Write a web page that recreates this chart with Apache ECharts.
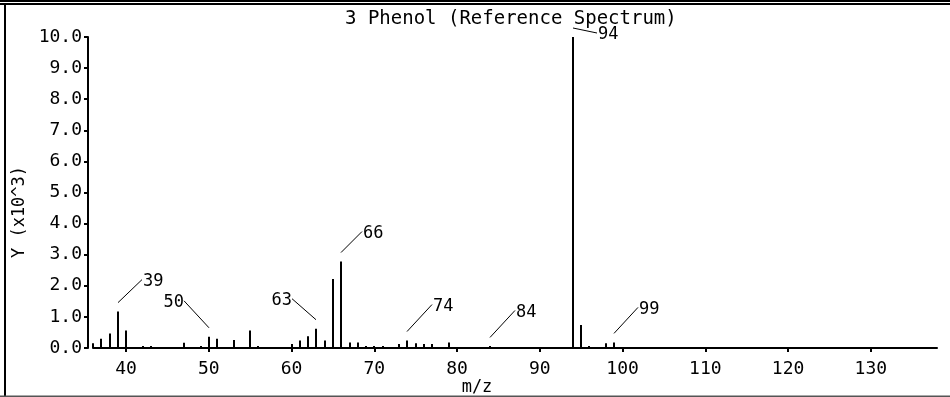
<!DOCTYPE html>
<html>
<head>
<meta charset="utf-8">
<script src="https://cdn.jsdelivr.net/npm/echarts@6/dist/echarts.min.js"></script>
<style>
html,body{margin:0;padding:0;background:#fff;}
#chart{width:950px;height:397px;}
</style>
</head>
<body>
<div id="chart"></div>
<script>
// ---- data ----
var titleText = '3 Phenol (Reference Spectrum)';
var yAxisTitle = 'Y (x10^3)';
var xAxisTitle = 'm/z';
var mzValues = [36,37,38,39,40,42,43,47,49,50,51,53,55,56,60,61,62,63,64,65,66,67,68,69,70,71,73,74,75,76,77,79,84,94,95,96,98,99];
var abundance = [0.15,0.30,0.47,1.17,0.56,0.06,0.06,0.17,0.06,0.36,0.30,0.26,0.56,0.06,0.13,0.24,0.38,0.62,0.24,2.22,2.78,0.18,0.18,0.05,0.05,0.05,0.13,0.24,0.15,0.13,0.13,0.18,0.05,10.0,0.74,0.05,0.15,0.18];
var labelledPeaks = [39,50,63,66,74,84,94,99];
var xTickValues = [40,50,60,70,80,90,100,110,120,130];

// ---- label leader layout (styling, pixels) ----
var leaderOffsets = {
  39:[24,-23], 50:[-25,-27], 63:[-24,-21], 66:[21,-21],
  74:[25,-27], 84:[25,-27], 94:[24,5], 99:[24,-26]
};

var FONT = 'DejaVu Sans Mono';

var barData = mzValues.map(function(m,i){return [m, abundance[i]];});
var labelData = labelledPeaks.map(function(m){
  return [m, abundance[mzValues.indexOf(m)]];
});

var chart = echarts.init(document.getElementById('chart'), null, {renderer:'canvas'});
chart.setOption({
  animation:false,
  backgroundColor:'#fff',
  title:{
    text:titleText, left:340, top:5,
    textStyle:{fontFamily:FONT,fontSize:19,fontWeight:'normal',color:'#000'}
  },
  grid:{left:93,right:13,top:37,bottom:49},
  xAxis:{
    type:'value', min:36, max:138, offset:5,
    axisLine:{lineStyle:{color:'#000',width:2}},
    axisTick:{show:true,length:4,customValues:xTickValues,lineStyle:{color:'#000',width:2}},
    axisLabel:{customValues:xTickValues,margin:7,fontFamily:FONT,fontSize:18,color:'#000'},
    splitLine:{show:false}
  },
  yAxis:{
    type:'value', min:0, max:10, interval:1, offset:5,
    axisLine:{show:true,lineStyle:{color:'#000',width:2}},
    axisTick:{show:true,length:4,lineStyle:{color:'#000',width:2}},
    axisLabel:{margin:6,fontFamily:FONT,fontSize:18,color:'#000',
      formatter:function(v){return v.toFixed(1);}},
    splitLine:{show:false}
  },
  graphic:[
    {type:'rect',shape:{x:0,y:0,width:950,height:2},style:{fill:'#000'}},
    {type:'rect',shape:{x:0,y:3,width:950,height:2},style:{fill:'#000'}},
    {type:'rect',shape:{x:4,y:5,width:2,height:392},style:{fill:'#000'}},
    {type:'rect',shape:{x:0,y:395.5,width:950,height:1.5},style:{fill:'#555'}},
    {type:'text',x:20,y:212,rotation:Math.PI/2,
      style:{text:yAxisTitle,fontFamily:FONT,fontSize:17,fill:'#000',align:'center',verticalAlign:'middle'}},
    {type:'text',x:477,y:388,
      style:{text:xAxisTitle,fontFamily:FONT,fontSize:17,fill:'#000',align:'center',verticalAlign:'middle'}}
  ],
  series:[
    {
      type:'custom',
      data:barData,
      renderItem:function(params,api){
        var top = api.coord([api.value(0), api.value(1)]);
        var base = api.coord([api.value(0), 0]);
        var h = Math.max(base[1]-top[1], 2);
        return {type:'rect',shape:{x:Math.round(top[0])-1,y:base[1]-h,width:2,height:h},style:{fill:'#000'}};
      }
    },
    {
      type:'custom',
      data:labelData,
      renderItem:function(params,api){
        var m = api.value(0);
        var top = api.coord([m, api.value(1)]);
        var off = leaderOffsets[m];
        var sx = Math.round(top[0]), sy = top[1]-9;
        var ex = sx+off[0], ey = sy+off[1];
        var right = off[0] > 0;
        return {type:'group',children:[
          {type:'line',shape:{x1:sx,y1:sy,x2:ex,y2:ey},style:{stroke:'#000',lineWidth:1}},
          {type:'text',x:right?ex+1:ex,y:ey+2,style:{text:String(m),fontFamily:FONT,fontSize:17,fill:'#000',
            align:right?'left':'right',verticalAlign:'middle'}}
        ]};
      }
    }
  ]
});
</script>
</body>
</html>
